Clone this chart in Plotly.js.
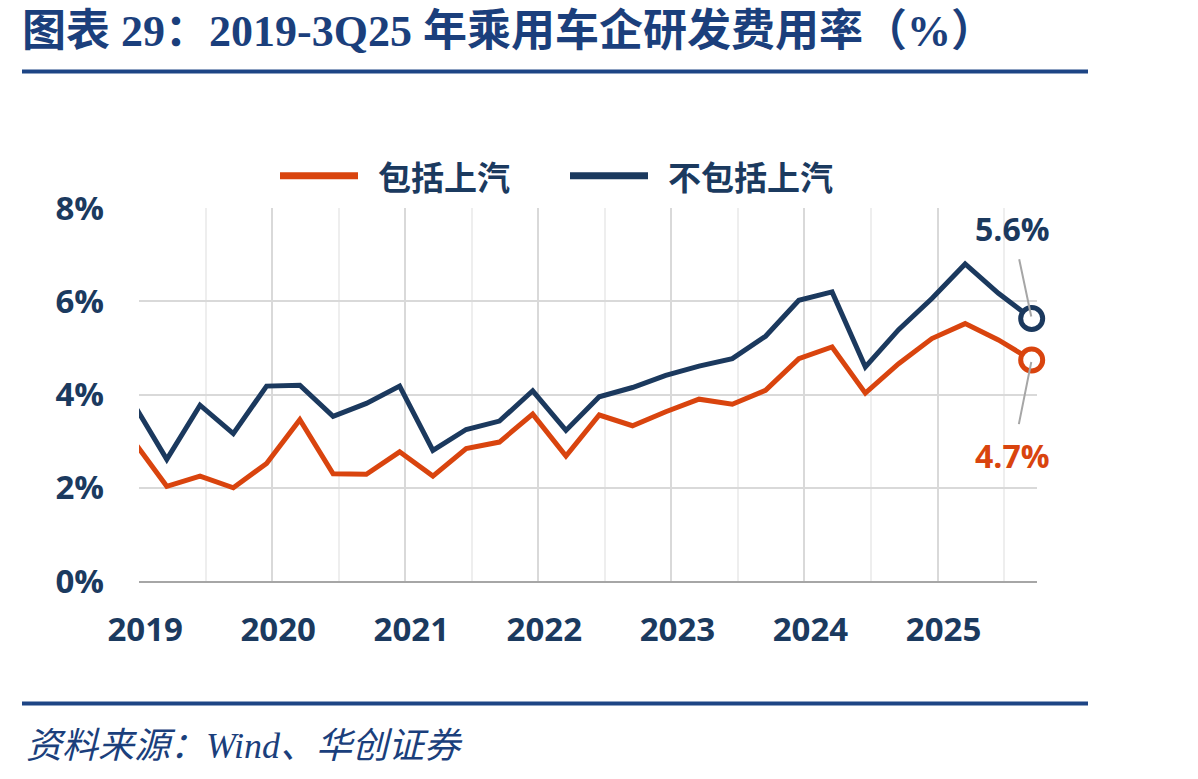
<!DOCTYPE html>
<html>
<head>
<meta charset="utf-8">
<script src="https://cdn.plot.ly/plotly-3.0.1.min.js"></script>
<style>
  html, body { margin: 0; padding: 0; background: #ffffff; }
  #chart { width: 1198px; height: 779px; }
</style>
</head>
<body>
<div id="chart"></div>
<script>
// ---- data ----
const quarters = ["4Q18","1Q19","2Q19","3Q19","4Q19","1Q20","2Q20","3Q20","4Q20",
                  "1Q21","2Q21","3Q21","4Q21","1Q22","2Q22","3Q22","4Q22",
                  "1Q23","2Q23","3Q23","4Q23","1Q24","2Q24","3Q24","4Q24",
                  "1Q25","2Q25","3Q25"];
const inclSAIC = [3.00, 2.03, 2.25, 2.00, 2.52, 3.46, 2.30, 2.29, 2.77,
                  2.25, 2.84, 2.98, 3.58, 2.68, 3.56, 3.33, 3.63,
                  3.90, 3.79, 4.09, 4.77, 5.02, 4.03, 4.66, 5.20,
                  5.52, 5.17, 4.74];
const exclSAIC = [3.80, 2.61, 3.77, 3.16, 4.18, 4.20, 3.53, 3.81, 4.18,
                  2.80, 3.25, 3.43, 4.08, 3.23, 3.95, 4.15, 4.41,
                  4.61, 4.77, 5.25, 6.02, 6.20, 4.59, 5.39, 6.06,
                  6.80, 6.17, 5.63];
const seriesNames = ["包括上汽", "不包括上汽"];
const yearLabels = ["2019","2020","2021","2022","2023","2024","2025"];
const endLabels = ["4.7%", "5.6%"];

// ---- styling ----
const RED = "#D9440E";
const NAVY = "#1B395E";
const TXT = "#1B3A5F";
const RULE = "#1D4585";

const xs = quarters.map((q, i) => i);
const yearStart = 0.17;              // position of each year boundary on the quarter index scale
const majorVals = yearLabels.map((y, i) => yearStart + 4 * i);
const minorVals = yearLabels.map((y, i) => yearStart + 2 + 4 * i);
const last = quarters.length - 1;

const traces = [
  { x: xs, y: inclSAIC, name: seriesNames[0], mode: "lines", type: "scatter",
    line: { color: RED, width: 5 }, showlegend: false, hoverinfo: "skip" },
  { x: xs, y: exclSAIC, name: seriesNames[1], mode: "lines", type: "scatter",
    line: { color: NAVY, width: 5 }, showlegend: false, hoverinfo: "skip" },
  { x: [xs[last]], y: [inclSAIC[last]], mode: "markers", type: "scatter",
    marker: { symbol: "circle", size: 22, color: "#ffffff", line: { color: RED, width: 5 } },
    showlegend: false, hoverinfo: "skip", cliponaxis: false },
  { x: [xs[last]], y: [exclSAIC[last]], mode: "markers", type: "scatter",
    marker: { symbol: "circle", size: 22, color: "#ffffff", line: { color: NAVY, width: 5 } },
    showlegend: false, hoverinfo: "skip", cliponaxis: false }
];

// plot area in pixels: x 139..1037, y 208.3..580.7
const PL = 139, PR = 1037, PT = 208.3, PB = 580.7;
const px = v => (v - PL) / (PR - PL);
const py = v => (PB - v) / (PB - PT);

const tickFont = { family: "Open Sans, Noto Sans, sans-serif", size: 33, color: TXT, weight: 700 };
const legendFont = { family: "Noto Sans CJK SC, sans-serif", size: 33, color: TXT, weight: 700 };

const layout = {
  width: 1198, height: 779,
  paper_bgcolor: "#ffffff", plot_bgcolor: "#ffffff",
  margin: { l: PL, r: 1198 - PR, t: PT, b: 779 - PB, pad: 0 },
  title: {
    text: "图表 29：2019-3Q25 年乘用车企研发费用率（%）",
    x: 22 / 1198, xanchor: "left", xref: "container",
    y: 1 - 31 / 779, yanchor: "middle", yref: "container",
    font: { family: "Liberation Serif, Noto Sans CJK SC, serif", size: 44, color: "#1B3F7C", weight: 700 }
  },
  xaxis: {
    range: [0.165, 27.16],
    tickmode: "array", tickvals: majorVals, ticktext: yearLabels,
    showgrid: true, gridcolor: "#D9D9D9", gridwidth: 2,
    minor: { tickmode: "array", tickvals: minorVals, showgrid: true, gridcolor: "#EEEEEE", gridwidth: 2 },
    showline: true, linecolor: "#A6A6A6", linewidth: 2,
    zeroline: false, ticks: "",
    tickfont: tickFont, ticklabelstandoff: 18, ticklabelshift: 6,
    fixedrange: true
  },
  yaxis: {
    range: [0, 8], tickmode: "linear", tick0: 0, dtick: 2, ticksuffix: "%",
    showgrid: true, gridcolor: "#D9D9D9", gridwidth: 2,
    zeroline: false, showline: false, ticks: "",
    tickfont: tickFont, ticklabelstandoff: 34,
    fixedrange: true
  },
  shapes: [
    // header and footer rules
    { type: "line", xref: "paper", yref: "paper", x0: px(22), x1: px(1088), y0: py(72), y1: py(72),
      line: { color: RULE, width: 4 } },
    { type: "line", xref: "paper", yref: "paper", x0: px(22), x1: px(1088), y0: py(703), y1: py(703),
      line: { color: RULE, width: 4 } },
    // legend samples
    { type: "line", xref: "paper", yref: "paper", x0: px(280), x1: px(358), y0: py(176), y1: py(176),
      line: { color: RED, width: 7 } },
    { type: "line", xref: "paper", yref: "paper", x0: px(570), x1: px(648), y0: py(176), y1: py(176),
      line: { color: NAVY, width: 7 } }
  ],
  annotations: [
    { xref: "paper", yref: "paper", x: px(376), y: py(176), xanchor: "left", yanchor: "middle",
      text: seriesNames[0], showarrow: false, font: legendFont },
    { xref: "paper", yref: "paper", x: px(666), y: py(176), xanchor: "left", yanchor: "middle",
      text: seriesNames[1], showarrow: false, font: legendFont },
    // end value labels with leader lines
    { x: xs[last], y: exclSAIC[last], xref: "x", yref: "y", text: endLabels[1],
      showarrow: true, arrowhead: 0, arrowwidth: 2, arrowcolor: "#A6A6A6",
      ax: -19, ay: -90, standoff: 2, startstandoff: 8,
      font: { family: "Open Sans, Noto Sans, sans-serif", size: 32, color: NAVY, weight: 700 } },
    { x: xs[last], y: inclSAIC[last], xref: "x", yref: "y", text: endLabels[0],
      showarrow: true, arrowhead: 0, arrowwidth: 2, arrowcolor: "#A6A6A6",
      ax: -19, ay: 95, standoff: 2, startstandoff: 8,
      font: { family: "Open Sans, Noto Sans, sans-serif", size: 32, color: RED, weight: 700 } },
    // source note
    { xref: "paper", yref: "paper", x: px(24), y: py(745), xanchor: "left", yanchor: "middle",
      text: "资料来源：Wind、华创证券", showarrow: false,
      font: { family: "Liberation Serif, Noto Sans CJK SC, serif", size: 36, color: "#1B3F7C", style: "italic" } }
  ]
};

Plotly.newPlot("chart", traces, layout, { displayModeBar: false, staticPlot: true });
</script>
</body>
</html>
